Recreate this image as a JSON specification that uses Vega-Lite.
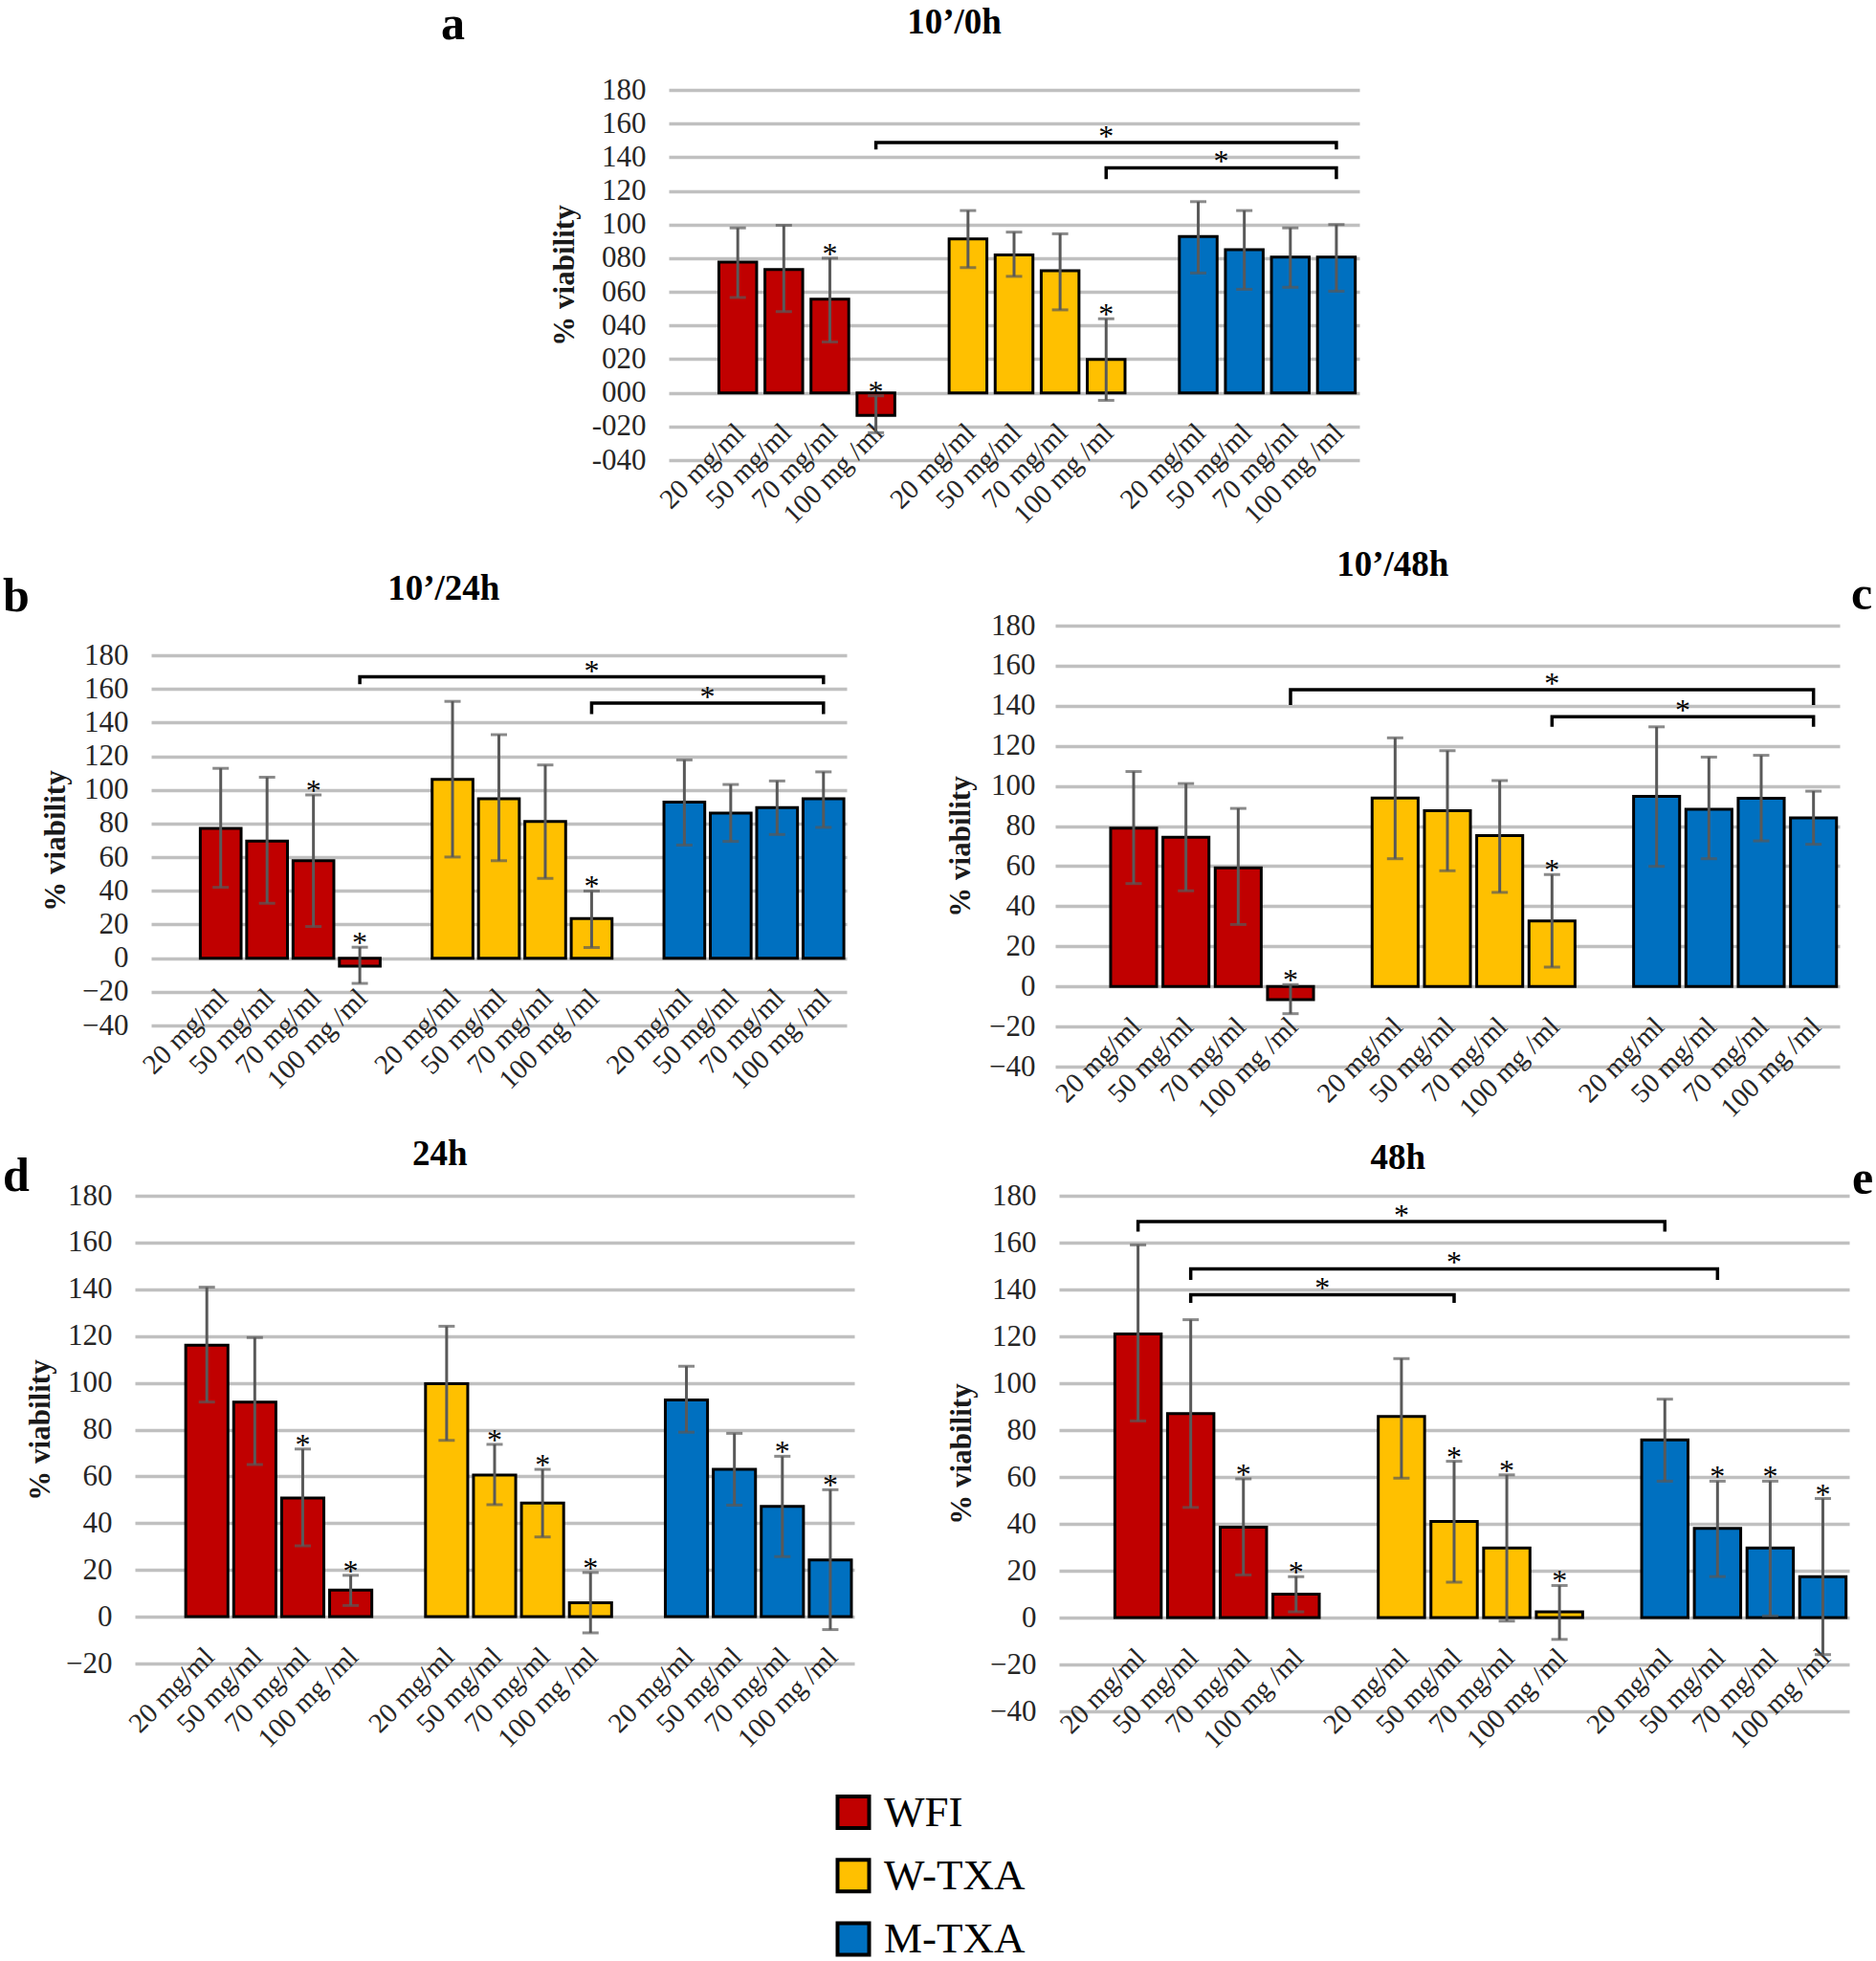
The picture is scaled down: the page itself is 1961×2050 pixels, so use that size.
{
"$schema": "https://vega.github.io/schema/vega-lite/v6.json",
"background": "white",
"padding": 0,
"spacing": 0,
"resolve": {"scale": {"color": "shared"}, "legend": {"color": "shared"}},
"config": {
  "view": {"stroke": null},
  "font": "Liberation Serif",
  "title": {"font": "Liberation Serif", "fontSize": 37, "fontWeight": "bold", "color": "black", "frame": "bounds", "anchor": "middle"},
  "axis": {"labelFont": "Liberation Serif", "titleFont": "Liberation Serif", "domain": false, "ticks": false, "labelColor": "#262626"},
  "axisY": {"labelFontSize": 31, "labelPadding": 24, "labelOverlap": false, "tickCount": 20, "gridColor": "#C0C0C0", "gridWidth": 3.5, "titleFontSize": 31, "titleFontWeight": "bold", "titleColor": "#1a1a1a", "titlePadding": 14},
  "axisX": {"grid": false, "labelAngle": -45, "labelFontSize": 29, "labelPadding": 27, "labelOffset": -7, "labelOverlap": false, "labelLimit": 400},
  "legend": {"orient": "none", "legendX": 869.5, "legendY": 1872, "title": null, "symbolType": "square", "symbolSize": 1089, "symbolStrokeWidth": 4, "symbolStrokeColor": "black", "labelFont": "Liberation Serif", "labelFontSize": 45, "labelColor": "black", "rowPadding": 17.3, "labelOffset": 9.5, "padding": 0}
},
"vconcat": [
 {
  "columns": 2, "spacing": 0, "bounds": "flush",
  "resolve": {"scale": {"color": "shared"}, "legend": {"color": "shared"}},
  "concat": [
   {"width": 699, "height": 94, "data": {"values": []}, "mark": "point"},
   {"width": 722, "height": 94, "data": {"values": []}, "mark": "point"},
   {"width": 699, "height": 387, "data": {"values": []}, "mark": "point", "title": {"text": "a", "anchor": "start", "frame": "group", "fontSize": 50, "offset": 43, "dx": 461}},
   {
    "width": 722, "height": 387,
    "title": {"text": "10’/0h", "offset": 34.6},
    "encoding": {"x": {"field": "s", "type": "nominal", "scale": {"domain": ["G1","W20","W50","W70","W100","G2","Y20","Y50","Y70","Y100","G3","M20","M50","M70","M100"], "paddingInner": 0.18, "paddingOuter": 0.09}, "axis": {"title": null, "offset": -70.4, "labelExpr": "slice(datum.value,0,1) == 'G' ? '' : slice(datum.value,1) == '100' ? '100 mg /ml' : slice(datum.value,1) + ' mg/ml'"}}},
    "layer": [
     {"data": {"values": [
       {"s":"W20","g":"WFI","v":77.7,"lo":56.6,"hi":98.0,"sig":0},
       {"s":"W50","g":"WFI","v":73.2,"lo":48.3,"hi":99.6,"sig":0},
       {"s":"W70","g":"WFI","v":55.6,"lo":30.2,"hi":80.0,"sig":1},
       {"s":"W100","g":"WFI","v":-13.4,"lo":-23.7,"hi":-1.8,"sig":1},
       {"s":"Y20","g":"W-TXA","v":91.5,"lo":74.4,"hi":108.3,"sig":0},
       {"s":"Y50","g":"W-TXA","v":82.0,"lo":69.2,"hi":95.5,"sig":0},
       {"s":"Y70","g":"W-TXA","v":72.6,"lo":49.3,"hi":94.5,"sig":0},
       {"s":"Y100","g":"W-TXA","v":19.9,"lo":-4.5,"hi":44.0,"sig":1},
       {"s":"M20","g":"M-TXA","v":92.9,"lo":71.2,"hi":113.6,"sig":0},
       {"s":"M50","g":"M-TXA","v":85.0,"lo":61.5,"hi":108.3,"sig":0},
       {"s":"M70","g":"M-TXA","v":80.7,"lo":62.7,"hi":98.0,"sig":0},
       {"s":"M100","g":"M-TXA","v":80.7,"lo":60.4,"hi":100.0,"sig":0}
      ]},
      "layer": [
       {"mark": {"type": "bar", "stroke": "black", "strokeWidth": 3}, "encoding": {"y": {"field": "v", "type": "quantitative", "scale": {"domain": [-40,180], "nice": false}, "axis": {"title": "% viability", "values": [-40,-20,0,20,40,60,80,100,120,140,160,180], "labelExpr": "datum.value < 0 ? '-0' + abs(datum.value) : datum.value < 10 ? '00' + datum.value : datum.value < 100 ? '0' + datum.value : '' + datum.value", "titlePadding": 12}}, "color": {"field": "g", "type": "nominal", "scale": {"domain": ["WFI","W-TXA","M-TXA"], "range": ["#C00000","#FFC000","#0070C0"]}}}},
       {"mark": {"type": "rule", "color": "#595959", "strokeWidth": 3}, "encoding": {"y": {"field": "lo", "type": "quantitative", "scale": {"domain": [-40,180], "nice": false}}, "y2": {"field": "hi"}}},
       {"mark": {"type": "tick", "color": "#595959", "thickness": 3, "size": 17}, "encoding": {"y": {"field": "lo", "type": "quantitative", "scale": {"domain": [-40,180], "nice": false}}}},
       {"mark": {"type": "tick", "color": "#595959", "thickness": 3, "size": 17}, "encoding": {"y": {"field": "hi", "type": "quantitative", "scale": {"domain": [-40,180], "nice": false}}}},
       {"transform": [{"filter": "datum.sig == 1"}], "mark": {"type": "text", "text": "*", "fontSize": 32, "baseline": "alphabetic", "dy": 6, "color": "black"}, "encoding": {"y": {"field": "hi", "type": "quantitative", "scale": {"domain": [-40,180], "nice": false}}}}
      ]},
     {"data": {"values": [
       {"b":1,"o":1,"s":"W100","y":144.6},{"b":1,"o":2,"s":"W100","y":148.7},{"b":1,"o":3,"s":"M100","y":148.7},{"b":1,"o":4,"s":"M100","y":144.6},
       {"b":2,"o":1,"s":"Y100","y":127},{"b":2,"o":2,"s":"Y100","y":133.7},{"b":2,"o":3,"s":"M100","y":133.7},{"b":2,"o":4,"s":"M100","y":127}
      ]},
      "mark": {"type": "line", "color": "black", "strokeWidth": 3.5},
      "encoding": {"y": {"field": "y", "type": "quantitative", "scale": {"domain": [-40,180], "nice": false}}, "detail": {"field": "b"}, "order": {"field": "o"}}},
     {"data": {"values": [{"s":"Y100","y":148.7,"h":0},{"s":"M20","y":133.7,"h":1}]},
      "layer": [
       {"transform": [{"filter": "datum.h == 0"}], "mark": {"type": "text", "text": "*", "fontSize": 32, "baseline": "alphabetic", "dy": 4, "color": "black"}, "encoding": {"y": {"field": "y", "type": "quantitative", "scale": {"domain": [-40,180], "nice": false}}}},
       {"transform": [{"filter": "datum.h == 1"}], "mark": {"type": "text", "text": "*", "fontSize": 32, "baseline": "alphabetic", "dy": 4, "color": "black"}, "encoding": {"x": {"field": "s", "type": "nominal", "bandPosition": 1.11, "scale": {"domain": ["G1","W20","W50","W70","W100","G2","Y20","Y50","Y70","Y100","G3","M20","M50","M70","M100"], "paddingInner": 0.18, "paddingOuter": 0.09}}, "y": {"field": "y", "type": "quantitative", "scale": {"domain": [-40,180], "nice": false}}}}
      ]}
    ]
   },
   {"width": 1, "height": 79, "data": {"values": []}, "mark": "point"},
   {"width": 1, "height": 79, "data": {"values": []}, "mark": "point"}
  ]
 },
 {
  "columns": 5, "spacing": 0, "bounds": "flush",
  "resolve": {"scale": {"color": "shared"}, "legend": {"color": "shared"}},
  "concat": [
   {"width": 1, "height": 94, "data": {"values": []}, "mark": "point"},
   {"width": 1, "height": 94, "data": {"values": []}, "mark": "point"},
   {"width": 1, "height": 94, "data": {"values": []}, "mark": "point"},
   {"width": 1, "height": 94, "data": {"values": []}, "mark": "point"},
   {"width": 1, "height": 94, "data": {"values": []}, "mark": "point"},
   {"width": 158, "height": 418, "data": {"values": []}, "mark": "point", "title": {"text": "b", "anchor": "start", "frame": "group", "fontSize": 50, "offset": 4.7, "dx": 3}},
   {
    "width": 727, "height": 418,
    "title": {"text": "10’/24h", "offset": 19.5},
    "encoding": {"x": {"field": "s", "type": "nominal", "scale": {"domain": ["G1","W20","W50","W70","W100","G2","Y20","Y50","Y70","Y100","G3","M20","M50","M70","M100"], "paddingInner": 0.12, "paddingOuter": 0.06}, "axis": {"title": null, "offset": -70.4, "labelExpr": "slice(datum.value,0,1) == 'G' ? '' : slice(datum.value,1) == '100' ? '100 mg /ml' : slice(datum.value,1) + ' mg/ml'"}}},
    "layer": [
     {"data": {"values": [
       {"s":"W20","g":"WFI","v":77.1,"lo":42.1,"hi":112.8,"sig":0},
       {"s":"W50","g":"WFI","v":69.6,"lo":32.6,"hi":107.5,"sig":0},
       {"s":"W70","g":"WFI","v":57.9,"lo":18.8,"hi":97.0,"sig":1},
       {"s":"W100","g":"WFI","v":-4.7,"lo":-15.0,"hi":6.5,"sig":1},
       {"s":"Y20","g":"W-TXA","v":106.3,"lo":60.1,"hi":152.6,"sig":0},
       {"s":"Y50","g":"W-TXA","v":94.7,"lo":57.9,"hi":132.8,"sig":0},
       {"s":"Y70","g":"W-TXA","v":81.2,"lo":47.4,"hi":114.8,"sig":0},
       {"s":"Y100","g":"W-TXA","v":23.5,"lo":6.3,"hi":39.9,"sig":1},
       {"s":"M20","g":"M-TXA","v":92.7,"lo":67.2,"hi":117.8,"sig":0},
       {"s":"M50","g":"M-TXA","v":86.2,"lo":69.4,"hi":103.2,"sig":0},
       {"s":"M70","g":"M-TXA","v":89.5,"lo":73.5,"hi":105.3,"sig":0},
       {"s":"M100","g":"M-TXA","v":94.7,"lo":77.7,"hi":110.7,"sig":0}
      ]},
      "layer": [
       {"mark": {"type": "bar", "stroke": "black", "strokeWidth": 3}, "encoding": {"y": {"field": "v", "type": "quantitative", "scale": {"domain": [-40,180], "nice": false, "range": [418, 31]}, "axis": {"title": "% viability", "values": [-40,-20,0,20,40,60,80,100,120,140,160,180], "titlePadding": 11}}, "color": {"field": "g", "type": "nominal", "scale": {"domain": ["WFI","W-TXA","M-TXA"], "range": ["#C00000","#FFC000","#0070C0"]}}}},
       {"mark": {"type": "rule", "color": "#595959", "strokeWidth": 3}, "encoding": {"y": {"field": "lo", "type": "quantitative", "scale": {"domain": [-40,180], "nice": false, "range": [418, 31]}}, "y2": {"field": "hi"}}},
       {"mark": {"type": "tick", "color": "#595959", "thickness": 3, "size": 17}, "encoding": {"y": {"field": "lo", "type": "quantitative", "scale": {"domain": [-40,180], "nice": false, "range": [418, 31]}}}},
       {"mark": {"type": "tick", "color": "#595959", "thickness": 3, "size": 17}, "encoding": {"y": {"field": "hi", "type": "quantitative", "scale": {"domain": [-40,180], "nice": false, "range": [418, 31]}}}},
       {"transform": [{"filter": "datum.sig == 1"}], "mark": {"type": "text", "text": "*", "fontSize": 32, "baseline": "alphabetic", "dy": 6, "color": "black"}, "encoding": {"y": {"field": "hi", "type": "quantitative", "scale": {"domain": [-40,180], "nice": false, "range": [418, 31]}}}}
      ]},
     {"data": {"values": [
       {"b":1,"o":1,"s":"W100","y":162.8},{"b":1,"o":2,"s":"W100","y":167.2},{"b":1,"o":3,"s":"M100","y":167.2},{"b":1,"o":4,"s":"M100","y":162.8},
       {"b":2,"o":1,"s":"Y100","y":145},{"b":2,"o":2,"s":"Y100","y":151.6},{"b":2,"o":3,"s":"M100","y":151.6},{"b":2,"o":4,"s":"M100","y":145}
      ]},
      "mark": {"type": "line", "color": "black", "strokeWidth": 3.5},
      "encoding": {"y": {"field": "y", "type": "quantitative", "scale": {"domain": [-40,180], "nice": false, "range": [418, 31]}}, "detail": {"field": "b"}, "order": {"field": "o"}}},
     {"data": {"values": [{"s":"Y100","y":167.2,"h":0},{"s":"M20","y":151.6,"h":1}]},
      "layer": [
       {"transform": [{"filter": "datum.h == 0"}], "mark": {"type": "text", "text": "*", "fontSize": 32, "baseline": "alphabetic", "dy": 4, "color": "black"}, "encoding": {"y": {"field": "y", "type": "quantitative", "scale": {"domain": [-40,180], "nice": false, "range": [418, 31]}}}},
       {"transform": [{"filter": "datum.h == 1"}], "mark": {"type": "text", "text": "*", "fontSize": 32, "baseline": "alphabetic", "dy": 4, "color": "black"}, "encoding": {"x": {"field": "s", "type": "nominal", "bandPosition": 1.068, "scale": {"domain": ["G1","W20","W50","W70","W100","G2","Y20","Y50","Y70","Y100","G3","M20","M50","M70","M100"], "paddingInner": 0.12, "paddingOuter": 0.06}}, "y": {"field": "y", "type": "quantitative", "scale": {"domain": [-40,180], "nice": false, "range": [418, 31]}}}}
      ]}
    ]
   },
   {"width": 218, "height": 1, "data": {"values": []}, "mark": "point"},
   {
    "width": 820, "height": 461,
    "title": {"text": "10’/48h", "offset": 27.6},
    "encoding": {"x": {"field": "s", "type": "nominal", "scale": {"domain": ["G1","W20","W50","W70","W100","G2","Y20","Y50","Y70","Y100","G3","M20","M50","M70","M100"], "paddingInner": 0.12, "paddingOuter": 0.06}, "axis": {"title": null, "offset": -83.8, "labelExpr": "slice(datum.value,0,1) == 'G' ? '' : slice(datum.value,1) == '100' ? '100 mg /ml' : slice(datum.value,1) + ' mg/ml'"}}},
    "layer": [
     {"data": {"values": [
       {"s":"W20","g":"WFI","v":79.0,"lo":51.3,"hi":107.2,"sig":0},
       {"s":"W50","g":"WFI","v":74.4,"lo":47.7,"hi":101.2,"sig":0},
       {"s":"W70","g":"WFI","v":59.2,"lo":30.9,"hi":88.8,"sig":0},
       {"s":"W100","g":"WFI","v":-6.6,"lo":-13.6,"hi":0.9,"sig":1},
       {"s":"Y20","g":"W-TXA","v":94.0,"lo":63.7,"hi":124.0,"sig":0},
       {"s":"Y50","g":"W-TXA","v":87.6,"lo":57.7,"hi":117.6,"sig":0},
       {"s":"Y70","g":"W-TXA","v":75.2,"lo":46.9,"hi":102.7,"sig":0},
       {"s":"Y100","g":"W-TXA","v":32.6,"lo":9.6,"hi":55.8,"sig":1},
       {"s":"M20","g":"M-TXA","v":94.8,"lo":59.9,"hi":129.5,"sig":0},
       {"s":"M50","g":"M-TXA","v":88.4,"lo":63.7,"hi":114.4,"sig":0},
       {"s":"M70","g":"M-TXA","v":93.9,"lo":72.6,"hi":115.3,"sig":0},
       {"s":"M100","g":"M-TXA","v":84.1,"lo":70.9,"hi":97.4,"sig":0}
      ]},
      "layer": [
       {"mark": {"type": "bar", "stroke": "black", "strokeWidth": 3}, "encoding": {"y": {"field": "v", "type": "quantitative", "scale": {"domain": [-40,180], "nice": false}, "axis": {"title": "% viability", "values": [-40,-20,0,20,40,60,80,100,120,140,160,180], "titlePadding": 13, "labelPadding": 21}}, "color": {"field": "g", "type": "nominal", "scale": {"domain": ["WFI","W-TXA","M-TXA"], "range": ["#C00000","#FFC000","#0070C0"]}}}},
       {"mark": {"type": "rule", "color": "#595959", "strokeWidth": 3}, "encoding": {"y": {"field": "lo", "type": "quantitative", "scale": {"domain": [-40,180], "nice": false}}, "y2": {"field": "hi"}}},
       {"mark": {"type": "tick", "color": "#595959", "thickness": 3, "size": 17}, "encoding": {"y": {"field": "lo", "type": "quantitative", "scale": {"domain": [-40,180], "nice": false}}}},
       {"mark": {"type": "tick", "color": "#595959", "thickness": 3, "size": 17}, "encoding": {"y": {"field": "hi", "type": "quantitative", "scale": {"domain": [-40,180], "nice": false}}}},
       {"transform": [{"filter": "datum.sig == 1"}], "mark": {"type": "text", "text": "*", "fontSize": 32, "baseline": "alphabetic", "dy": 6, "color": "black"}, "encoding": {"y": {"field": "hi", "type": "quantitative", "scale": {"domain": [-40,180], "nice": false}}}}
      ]},
     {"data": {"values": [
       {"b":1,"o":1,"s":"W100","y":140.4},{"b":1,"o":2,"s":"W100","y":148},{"b":1,"o":3,"s":"M100","y":148},{"b":1,"o":4,"s":"M100","y":140.4},
       {"b":2,"o":1,"s":"Y100","y":129.5},{"b":2,"o":2,"s":"Y100","y":134.6},{"b":2,"o":3,"s":"M100","y":134.6},{"b":2,"o":4,"s":"M100","y":129.5}
      ]},
      "mark": {"type": "line", "color": "black", "strokeWidth": 3.5},
      "encoding": {"y": {"field": "y", "type": "quantitative", "scale": {"domain": [-40,180], "nice": false}}, "detail": {"field": "b"}, "order": {"field": "o"}}},
     {"data": {"values": [{"s":"Y100","y":148,"h":0},{"s":"M20","y":134.6,"h":1}]},
      "layer": [
       {"transform": [{"filter": "datum.h == 0"}], "mark": {"type": "text", "text": "*", "fontSize": 32, "baseline": "alphabetic", "dy": 4, "color": "black"}, "encoding": {"y": {"field": "y", "type": "quantitative", "scale": {"domain": [-40,180], "nice": false}}}},
       {"transform": [{"filter": "datum.h == 1"}], "mark": {"type": "text", "text": "*", "fontSize": 32, "baseline": "alphabetic", "dy": 4, "color": "black"}, "encoding": {"x": {"field": "s", "type": "nominal", "bandPosition": 1.068, "scale": {"domain": ["G1","W20","W50","W70","W100","G2","Y20","Y50","Y70","Y100","G3","M20","M50","M70","M100"], "paddingInner": 0.12, "paddingOuter": 0.06}}, "y": {"field": "y", "type": "quantitative", "scale": {"domain": [-40,180], "nice": false}}}}
      ]}
    ]
   },
   {"width": 38, "height": 461, "data": {"values": []}, "mark": "point", "title": {"text": "c", "anchor": "start", "frame": "group", "fontSize": 50, "offset": 6.9, "dx": 12}},
   {"width": 1, "height": 65, "data": {"values": []}, "mark": "point"},
   {"width": 1, "height": 65, "data": {"values": []}, "mark": "point"},
   {"width": 1, "height": 65, "data": {"values": []}, "mark": "point"},
   {"width": 1, "height": 65, "data": {"values": []}, "mark": "point"},
   {"width": 1, "height": 65, "data": {"values": []}, "mark": "point"}
  ]
 },
 {
  "columns": 5, "spacing": 0, "bounds": "flush",
  "resolve": {"scale": {"color": "shared"}, "legend": {"color": "shared"}},
  "concat": [
   {"width": 1, "height": 70, "data": {"values": []}, "mark": "point"},
   {"width": 1, "height": 70, "data": {"values": []}, "mark": "point"},
   {"width": 1, "height": 70, "data": {"values": []}, "mark": "point"},
   {"width": 1, "height": 70, "data": {"values": []}, "mark": "point"},
   {"width": 1, "height": 70, "data": {"values": []}, "mark": "point"},
   {"width": 141, "height": 489, "data": {"values": []}, "mark": "point", "title": {"text": "d", "anchor": "start", "frame": "group", "fontSize": 50, "offset": -4.8, "dx": 3}},
   {
    "width": 752, "height": 489,
    "title": {"text": "24h", "offset": 8.2},
    "encoding": {"x": {"field": "s", "type": "nominal", "scale": {"domain": ["G1","W20","W50","W70","W100","G2","Y20","Y50","Y70","Y100","G3","M20","M50","M70","M100"], "paddingInner": 0.12, "paddingOuter": 0.06}, "axis": {"title": null, "offset": -48.9, "labelExpr": "slice(datum.value,0,1) == 'G' ? '' : slice(datum.value,1) == '100' ? '100 mg /ml' : slice(datum.value,1) + ' mg/ml'"}}},
    "layer": [
     {"data": {"values": [
       {"s":"W20","g":"WFI","v":116.1,"lo":91.8,"hi":140.9,"sig":0},
       {"s":"W50","g":"WFI","v":91.8,"lo":65.1,"hi":119.4,"sig":0},
       {"s":"W70","g":"WFI","v":50.8,"lo":30.3,"hi":71.7,"sig":1},
       {"s":"W100","g":"WFI","v":11.4,"lo":4.8,"hi":17.7,"sig":1},
       {"s":"Y20","g":"W-TXA","v":99.6,"lo":75.4,"hi":124.2,"sig":0},
       {"s":"Y50","g":"W-TXA","v":60.6,"lo":47.9,"hi":73.7,"sig":1},
       {"s":"Y70","g":"W-TXA","v":48.6,"lo":34.1,"hi":63.0,"sig":1},
       {"s":"Y100","g":"W-TXA","v":6.0,"lo":-6.9,"hi":18.9,"sig":1},
       {"s":"M20","g":"M-TXA","v":92.7,"lo":78.9,"hi":107.1,"sig":0},
       {"s":"M50","g":"M-TXA","v":63.0,"lo":47.7,"hi":78.4,"sig":0},
       {"s":"M70","g":"M-TXA","v":47.2,"lo":25.7,"hi":68.6,"sig":1},
       {"s":"M100","g":"M-TXA","v":24.3,"lo":-5.5,"hi":54.3,"sig":1}
      ]},
      "layer": [
       {"mark": {"type": "bar", "stroke": "black", "strokeWidth": 3}, "encoding": {"y": {"field": "v", "type": "quantitative", "scale": {"domain": [-20,180], "nice": false}, "axis": {"title": "% viability", "values": [-20,0,20,40,60,80,100,120,140,160,180], "titlePadding": 10}}, "color": {"field": "g", "type": "nominal", "scale": {"domain": ["WFI","W-TXA","M-TXA"], "range": ["#C00000","#FFC000","#0070C0"]}}}},
       {"mark": {"type": "rule", "color": "#595959", "strokeWidth": 3}, "encoding": {"y": {"field": "lo", "type": "quantitative", "scale": {"domain": [-20,180], "nice": false}}, "y2": {"field": "hi"}}},
       {"mark": {"type": "tick", "color": "#595959", "thickness": 3, "size": 17}, "encoding": {"y": {"field": "lo", "type": "quantitative", "scale": {"domain": [-20,180], "nice": false}}}},
       {"mark": {"type": "tick", "color": "#595959", "thickness": 3, "size": 17}, "encoding": {"y": {"field": "hi", "type": "quantitative", "scale": {"domain": [-20,180], "nice": false}}}},
       {"transform": [{"filter": "datum.sig == 1"}], "mark": {"type": "text", "text": "*", "fontSize": 32, "baseline": "alphabetic", "dy": 6, "color": "black"}, "encoding": {"y": {"field": "hi", "type": "quantitative", "scale": {"domain": [-20,180], "nice": false}}}}
      ]}
    ]
   },
   {"width": 214, "height": 1, "data": {"values": []}, "mark": "point"},
   {
    "width": 826, "height": 539,
    "title": {"text": "48h", "offset": 4.4},
    "encoding": {"x": {"field": "s", "type": "nominal", "scale": {"domain": ["G1","W20","W50","W70","W100","G2","Y20","Y50","Y70","Y100","G3","M20","M50","M70","M100"], "paddingInner": 0.12, "paddingOuter": 0.06}, "axis": {"title": null, "offset": -98, "labelExpr": "slice(datum.value,0,1) == 'G' ? '' : slice(datum.value,1) == '100' ? '100 mg /ml' : slice(datum.value,1) + ' mg/ml'"}}},
    "layer": [
     {"data": {"values": [
       {"s":"W20","g":"WFI","v":121.0,"lo":83.9,"hi":159.0,"sig":0},
       {"s":"W50","g":"WFI","v":87.0,"lo":47.0,"hi":127.1,"sig":0},
       {"s":"W70","g":"WFI","v":38.6,"lo":18.2,"hi":59.2,"sig":1},
       {"s":"W100","g":"WFI","v":10.0,"lo":2.4,"hi":17.5,"sig":1},
       {"s":"Y20","g":"W-TXA","v":85.8,"lo":59.5,"hi":110.5,"sig":0},
       {"s":"Y50","g":"W-TXA","v":41.0,"lo":15.1,"hi":66.7,"sig":1},
       {"s":"Y70","g":"W-TXA","v":29.7,"lo":-1.5,"hi":60.9,"sig":1},
       {"s":"Y100","g":"W-TXA","v":2.4,"lo":-9.3,"hi":13.7,"sig":1},
       {"s":"M20","g":"M-TXA","v":75.8,"lo":58.2,"hi":93.2,"sig":0},
       {"s":"M50","g":"M-TXA","v":38.1,"lo":17.5,"hi":58.2,"sig":1},
       {"s":"M70","g":"M-TXA","v":29.7,"lo":0.7,"hi":58.2,"sig":1},
       {"s":"M100","g":"M-TXA","v":17.5,"lo":-15.8,"hi":50.8,"sig":1}
      ]},
      "layer": [
       {"mark": {"type": "bar", "stroke": "black", "strokeWidth": 3}, "encoding": {"y": {"field": "v", "type": "quantitative", "scale": {"domain": [-40,180], "nice": false}, "axis": {"title": "% viability", "values": [-40,-20,0,20,40,60,80,100,120,140,160,180], "titlePadding": 13}}, "color": {"field": "g", "type": "nominal", "scale": {"domain": ["WFI","W-TXA","M-TXA"], "range": ["#C00000","#FFC000","#0070C0"]}}}},
       {"mark": {"type": "rule", "color": "#595959", "strokeWidth": 3}, "encoding": {"y": {"field": "lo", "type": "quantitative", "scale": {"domain": [-40,180], "nice": false}}, "y2": {"field": "hi"}}},
       {"mark": {"type": "tick", "color": "#595959", "thickness": 3, "size": 17}, "encoding": {"y": {"field": "lo", "type": "quantitative", "scale": {"domain": [-40,180], "nice": false}}}},
       {"mark": {"type": "tick", "color": "#595959", "thickness": 3, "size": 17}, "encoding": {"y": {"field": "hi", "type": "quantitative", "scale": {"domain": [-40,180], "nice": false}}}},
       {"transform": [{"filter": "datum.sig == 1"}], "mark": {"type": "text", "text": "*", "fontSize": 32, "baseline": "alphabetic", "dy": 6, "color": "black"}, "encoding": {"y": {"field": "hi", "type": "quantitative", "scale": {"domain": [-40,180], "nice": false}}}}
      ]},
     {"data": {"values": [
       {"b":1,"o":1,"s":"W20","y":164.7},{"b":1,"o":2,"s":"W20","y":169},{"b":1,"o":3,"s":"M20","y":169},{"b":1,"o":4,"s":"M20","y":164.7},
       {"b":2,"o":1,"s":"W50","y":144.1},{"b":2,"o":2,"s":"W50","y":148.8},{"b":2,"o":3,"s":"M50","y":148.8},{"b":2,"o":4,"s":"M50","y":144.1},
       {"b":3,"o":1,"s":"W50","y":134.3},{"b":3,"o":2,"s":"W50","y":137.8},{"b":3,"o":3,"s":"Y50","y":137.8},{"b":3,"o":4,"s":"Y50","y":134.3}
      ]},
      "mark": {"type": "line", "color": "black", "strokeWidth": 3.5},
      "encoding": {"y": {"field": "y", "type": "quantitative", "scale": {"domain": [-40,180], "nice": false}}, "detail": {"field": "b"}, "order": {"field": "o"}}},
     {"data": {"values": [{"s":"Y20","y":169,"h":0},{"s":"Y50","y":148.8,"h":0},{"s":"W100","y":137.8,"h":1}]},
      "layer": [
       {"transform": [{"filter": "datum.h == 0"}], "mark": {"type": "text", "text": "*", "fontSize": 32, "baseline": "alphabetic", "dy": 4, "color": "black"}, "encoding": {"y": {"field": "y", "type": "quantitative", "scale": {"domain": [-40,180], "nice": false}}}},
       {"transform": [{"filter": "datum.h == 1"}], "mark": {"type": "text", "text": "*", "fontSize": 32, "baseline": "alphabetic", "dy": 4, "color": "black"}, "encoding": {"x": {"field": "s", "type": "nominal", "bandPosition": 1.068, "scale": {"domain": ["G1","W20","W50","W70","W100","G2","Y20","Y50","Y70","Y100","G3","M20","M50","M70","M100"], "paddingInner": 0.12, "paddingOuter": 0.06}}, "y": {"field": "y", "type": "quantitative", "scale": {"domain": [-40,180], "nice": false}}}}
      ]}
    ]
   },
   {"width": 28, "height": 539, "data": {"values": []}, "mark": "point", "title": {"text": "e", "anchor": "start", "frame": "group", "fontSize": 50, "offset": -7.7, "dx": 3}}
  ]
 }
]
}
